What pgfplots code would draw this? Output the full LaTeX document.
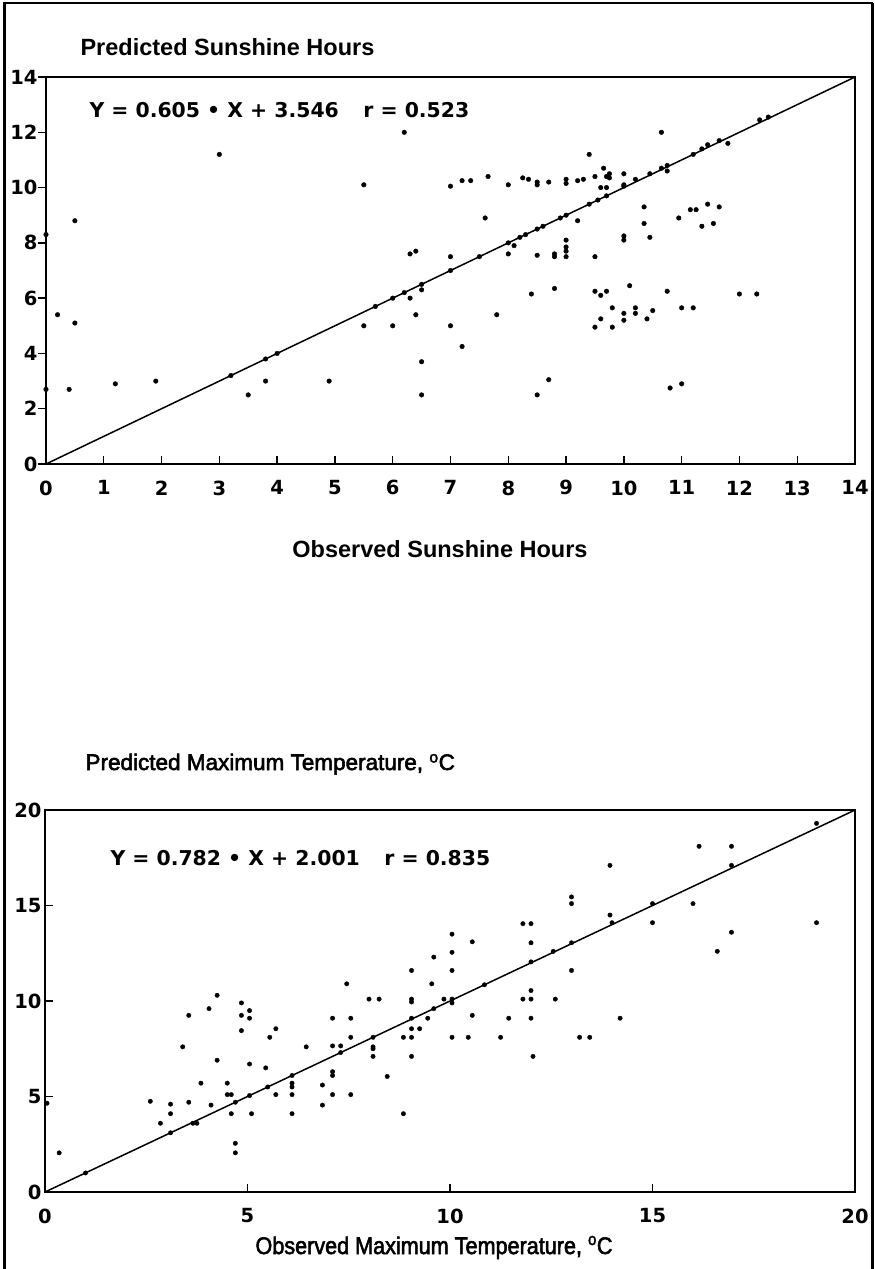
\documentclass[border=0pt]{standalone}
\usepackage{fontspec}
\setmainfont{Liberation Sans}
\newfontfamily\wide{DejaVu Sans}
\newfontfamily\semib{Liberation Sans}[FakeBold=2.5]
\usepackage{pgfplots}
\pgfplotsset{compat=1.18}

\pgfplotstableread{
x y
0.0 8.3
0.0 2.7
0.2 5.4
0.5 8.8
0.5 5.1
0.4 2.7
1.2 2.9
1.9 3.0
3.0 11.2
3.2 3.2
3.5 2.5
3.8 3.0
3.8 3.8
4.0 4.0
4.9 3.0
5.5 10.1
5.5 5.0
5.7 5.7
6.0 5.0
6.0 6.0
6.2 6.2
6.2 12.0
6.3 6.0
6.3 7.6
6.4 7.7
6.4 5.4
6.5 6.3
6.5 6.5
6.5 3.7
6.5 2.5
7.0 10.05
7.0 7.5
7.0 7.0
7.0 5.0
7.2 10.25
7.2 4.25
7.35 10.25
7.5 7.5
7.6 8.9
7.65 10.4
7.8 5.4
8.0 10.1
8.0 8.0
8.0 7.6
8.1 7.9
8.2 8.2
8.25 10.35
8.3 8.3
8.35 10.3
8.4 6.15
8.5 10.2
8.5 10.1
8.5 8.5
8.5 7.55
8.5 2.5
8.6 8.6
8.7 10.2
8.7 3.05
8.8 7.6
8.8 7.5
8.8 6.35
8.9 8.9
9.0 10.3
9.0 10.15
9.0 9.0
9.0 8.1
9.0 7.85
9.0 7.7
9.0 7.5
9.2 10.25
9.2 8.8
9.3 10.3
9.4 11.2
9.4 9.4
9.5 10.4
9.5 7.5
9.5 6.25
9.5 4.95
9.55 9.55
9.6 10.0
9.6 6.1
9.6 5.25
9.65 10.7
9.7 10.4
9.7 10.0
9.7 9.7
9.7 6.25
9.75 10.5
9.75 10.35
9.8 5.65
9.8 4.95
10.0 10.5
10.0 10.1
10.0 10.05
10.0 8.25
10.0 8.1
10.0 5.45
10.0 5.2
10.1 6.45
10.2 10.3
10.2 5.65
10.2 5.45
10.35 9.3
10.35 8.7
10.4 5.25
10.45 10.5
10.45 8.2
10.5 5.55
10.65 12.0
10.65 10.7
10.75 10.8
10.75 10.6
10.75 6.25
10.8 2.75
10.95 8.9
11.0 5.65
11.0 2.9
11.15 9.2
11.2 11.2
11.2 5.65
11.25 9.2
11.35 11.4
11.35 8.6
11.45 11.55
11.45 9.4
11.55 8.7
11.65 11.7
11.65 9.3
11.8 11.6
12.0 6.15
12.3 6.15
12.35 12.45
12.5 12.55
}\sunshine

\pgfplotstableread{
x y
0.05 4.65
0.35 2.05
1.0 1.0
2.6 4.75
2.85 3.6
3.1 4.6
3.1 4.1
3.1 3.1
3.4 7.6
3.55 9.25
3.55 4.7
3.65 3.6
3.75 3.6
3.85 5.7
4.05 9.6
4.1 4.55
4.25 10.3
4.25 6.9
4.5 5.7
4.5 5.1
4.6 5.1
4.6 4.1
4.7 4.7
4.7 2.55
4.7 2.05
4.85 9.9
4.85 9.25
4.85 8.45
5.05 9.5
5.05 9.1
5.05 6.7
5.05 5.05
5.1 4.1
5.45 6.5
5.5 5.5
5.55 8.1
5.7 8.55
5.7 5.1
6.1 6.1
6.1 5.7
6.1 5.5
6.1 5.1
6.1 4.1
6.45 7.6
6.85 5.6
6.85 4.55
7.1 9.1
7.1 7.65
7.1 6.3
7.1 6.1
7.1 5.1
7.3 7.65
7.3 7.3
7.45 10.9
7.55 9.1
7.55 8.1
7.55 5.1
8.0 10.1
8.1 8.1
8.1 7.6
8.1 7.5
8.1 7.1
8.25 10.1
8.45 6.05
8.85 8.1
8.85 4.1
9.05 11.6
9.05 10.1
9.05 9.95
9.05 9.1
9.05 8.55
9.05 8.1
9.05 7.1
9.25 8.55
9.45 9.1
9.55 10.9
9.6 12.3
9.6 9.6
9.85 10.1
10.05 13.5
10.05 12.55
10.05 11.6
10.05 10.1
10.05 9.9
10.05 8.1
10.45 8.1
10.55 13.1
10.55 9.25
10.85 10.85
11.25 8.1
11.45 9.1
11.8 14.05
11.8 10.1
12.0 14.05
12.0 13.05
12.0 12.05
12.0 10.55
12.0 10.1
12.0 9.1
12.05 7.1
12.55 12.6
12.6 10.1
13.0 15.45
13.0 15.1
13.0 13.05
13.0 11.6
13.2 8.1
13.45 8.1
13.95 17.1
13.95 14.5
14.0 14.1
14.2 9.1
15.0 15.1
15.0 14.1
16.0 15.1
16.15 18.1
16.6 12.6
16.95 18.1
16.95 17.1
16.95 13.6
19.05 19.3
19.05 14.1
}\temperature

\pgfplotsset{scatt/.style={
  scale only axis, anchor=south west,
  axis line style={line width=1.8pt},
  tick style={black, line width=1.4pt},
  major tick length=8pt,
  tick align=inside,
  tick pos=left,
  /pgf/number format/assume math mode=true,
  ticklabel style={font=\wide\bfseries\fontsize{19.5}{22}\selectfont},
  xticklabel style={yshift=-13pt},
}}

\begin{document}
\begin{tikzpicture}
\useasboundingbox (0,0) rectangle (875pt,-1269pt);
\draw[line width=3pt] (4pt,-1269pt) -- (4pt,-3pt);
\draw[line width=3pt] (872pt,-1269pt) -- (872pt,-3pt);
\draw[line width=2pt] (3pt,-3pt) -- (873pt,-3pt);

% sunshine
\begin{axis}[scatt, at={(46pt,-464pt)}, width=809pt, height=387pt,
  xmin=0, xmax=14, ymin=0, ymax=14,
  xtick={0,1,...,14}, ytick={0,2,...,14},
  y tick style={xshift=-8pt}, yticklabel style={xshift=-5pt}]
\addplot[black, line width=1.5pt] coordinates {(0,0) (14,14)};
\addplot[only marks, mark=*, mark size=2.3pt, black] table {\sunshine};
\end{axis}
\node[anchor=base west, font=\bfseries\fontsize{23.5}{26}\selectfont] at (77pt,-55pt) {Predicted Sunshine Hours};
\node[anchor=base west, font=\wide\bfseries\fontsize{20.4}{24}\selectfont] at (86pt,-117pt)
  {Y = 0.605 • X + 3.546\hspace{1.2em}r = 0.523};
\node[anchor=base, font=\bfseries\fontsize{23.5}{26}\selectfont] at (440pt,-557pt) {Observed Sunshine Hours};

% temperature
\begin{axis}[scatt, at={(45pt,-1192pt)}, width=810pt, height=382pt,
  xmin=0, xmax=20, ymin=0, ymax=20,
  xtick={0,5,...,20}, ytick={0,5,...,20}]
\addplot[black, line width=1.5pt] coordinates {(0,0) (20,20)};
\addplot[only marks, mark=*, mark size=2.2pt, black] table {\temperature};
\end{axis}
\node[anchor=base west, font=\semib\fontsize{22.5}{26}\selectfont] at (82pt,-770pt) {Predicted Maximum Temperature, \textsuperscript{o}C};
\node[anchor=base west, font=\wide\bfseries\fontsize{20.4}{24}\selectfont] at (107pt,-865pt)
  {Y = 0.782 • X + 2.001\hspace{1.2em}r = 0.835};
\node[anchor=base, font=\semib\fontsize{24}{28}\selectfont] at (434pt,-1254pt)
  {\scalebox{0.9}[1]{Observed Maximum Temperature, \textsuperscript{o}C}};
\end{tikzpicture}
\end{document}
